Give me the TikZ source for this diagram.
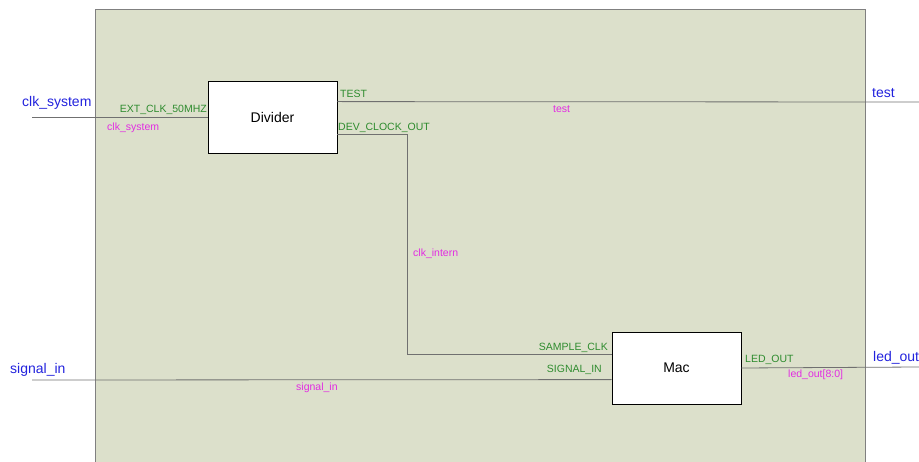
\documentclass[tikz,border=0pt]{standalone}
\usepackage{fontspec}
\setmainfont{Liberation Sans}
\usetikzlibrary{positioning}

\definecolor{panelfill}{HTML}{DCE0CB}
\definecolor{panelgray}{HTML}{808080}
\definecolor{wiregray}{HTML}{707070}
\definecolor{topblue}{HTML}{2222DD}
\definecolor{portgreen}{HTML}{2E8B2E}
\definecolor{netmagenta}{HTML}{E22CE2}

\begin{document}
\begin{tikzpicture}[
            x=1pt, y=-1pt,
            block/.style={draw, thick, fill=white, minimum width=129pt, minimum height=72pt,
                          inner sep=0pt, font=\fontsize{14}{16}\selectfont},
            wire/.style={draw=wiregray, line width=0.8pt},
            toplabel/.style={text=topblue, inner sep=0pt, font=\fontsize{14}{16}\selectfont},
            portlabel/.style={text=portgreen, inner sep=0pt, font=\fontsize{10.5}{12}\selectfont},
            netlabel/.style={text=netmagenta, inner sep=0pt, font=\fontsize{10.5}{12}\selectfont}
                           ]
            \useasboundingbox (0,0) rectangle (919,462);

            % 1. Draw the top level panel
            \fill[panelfill] (95,9) rectangle (865,462);
            \draw[panelgray, line width=0.8pt] (95,462) -- (95,9) -- (865,9) -- (865,462);

            % 2. Place the two blocks
            \node[block] (div) at (272.5,117) {Divider};
            \node[block] (mac) at (676.5,368) {Mac};

            % 3. Port positions on the blocks and at the top level
            \coordinate (clk_in)     at (32,117);
            \coordinate (sig_in)     at (32,380);
            \coordinate (test_out)   at (919,102);
            \coordinate (led_out)    at (919,367);
            \coordinate (div_test)   at ([yshift=-21pt]div.north east);
            \coordinate (div_dev)    at ([yshift=-54pt]div.north east);
            \coordinate (mac_sample) at ([yshift=-23pt]mac.north west);
            \coordinate (mac_signal) at ([yshift=-48pt]mac.north west);
            \coordinate (clk_turn)   at (407,0);

            % 4. Draw the wires
            \draw[wire] (clk_in) -- (div.west);
            \draw[wire] (div_test) -- (test_out);
            \draw[wire] (div_dev) -- (div_dev -| clk_turn) -- (clk_turn |- mac_sample) -- (mac_sample);
            \draw[wire] (sig_in) -- (mac_signal);
            \draw[wire] (mac.east) -- (led_out);

            % 5. Top level signal names
            \node[toplabel, anchor=base west] (lbl_clk)  at (22,107)  {clk\_system};
            \node[toplabel, anchor=base west] (lbl_sig)  at (10,374)  {signal\_in};
            \node[toplabel, anchor=base west] (lbl_test) at (872,98)  {test};
            \node[toplabel, anchor=base west] (lbl_led)  at (873,362) {led\_out};

            % 6. Port names of the blocks
            \node[portlabel, anchor=base east] (p_ext)    at (207,113) {EXT\_CLK\_50MHZ};
            \node[portlabel, anchor=base west] (p_test)   at (340,98)  {TEST};
            \node[portlabel, anchor=base west] (p_dev)    at (338,131) {DEV\_CLOCK\_OUT};
            \node[portlabel, anchor=base east] (p_sample) at (608,351) {SAMPLE\_CLK};
            \node[portlabel, anchor=base east] (p_signal) at (602,373) {SIGNAL\_IN};
            \node[portlabel, anchor=base west] (p_led)    at (745,363) {LED\_OUT};

            % 7. Net names
            \node[netlabel, anchor=base west] (n_clk)    at (107,131) {clk\_system};
            \node[netlabel, anchor=base west] (n_test)   at (553,113) {test};
            \node[netlabel, anchor=base west] (n_intern) at (413,257) {clk\_intern};
            \node[netlabel, anchor=base west] (n_sig)    at (296,391) {signal\_in};
            \node[netlabel, anchor=base west] (n_led)    at (788,378) {led\_out[8:0]};

        \end{tikzpicture}
\end{document}
